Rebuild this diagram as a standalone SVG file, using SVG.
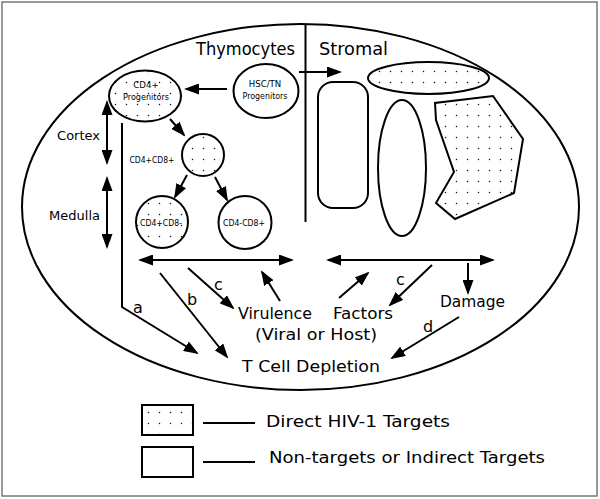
<svg xmlns="http://www.w3.org/2000/svg" width="600" height="499" viewBox="0 0 600 499">
<style>
.o{fill:none;stroke:#000;stroke-width:2}
.d{fill:url(#dots);stroke:#000;stroke-width:2}
.c{fill:none;stroke:#000;stroke-width:2}
.a{fill:none;stroke:#000;stroke-width:2;marker-end:url(#ah)}
.aa{fill:none;stroke:#000;stroke-width:2;marker-end:url(#ah);marker-start:url(#ah)}
text{font-family:"DejaVu Sans","Liberation Sans",sans-serif;fill:#000}
.s{font-size:8.6px;text-anchor:middle}
.m{font-size:13px}
.l{font-size:16px}
.t{font-size:17px}
</style>
<defs>
<pattern id="dots" width="11" height="11" patternUnits="userSpaceOnUse">
<rect width="11" height="11" fill="#fff"/>
<circle cx="5.5" cy="5.5" r="0.75" fill="#111"/>
</pattern>
<marker id="ah" viewBox="0 0 15 11" refX="13" refY="5.5" markerWidth="15" markerHeight="11" markerUnits="userSpaceOnUse" orient="auto-start-reverse">
<path d="M0,0 L15,5.5 L0,11 z" fill="#000"/>
</marker>
</defs>
<rect x="2" y="2" width="595" height="494" fill="#fff" stroke="#777" stroke-width="1.5"/>
<g id="thymus">
<ellipse cx="300.5" cy="207" rx="278.5" ry="183" class="o"/>
<line x1="305.5" y1="24" x2="305.5" y2="222" class="c"/>
<text x="295" y="55" class="t" text-anchor="end" textLength="99" lengthAdjust="spacingAndGlyphs">Thymocytes</text>
<text x="319" y="55" class="t" textLength="69" lengthAdjust="spacingAndGlyphs">Stromal</text>
<text x="100" y="140" class="m" text-anchor="end">Cortex</text>
<text x="100" y="220" class="m" text-anchor="end">Medulla</text>
</g>
<g id="cd4-progenitors">
<ellipse cx="145" cy="96" rx="36" ry="25.5" class="d"/>
<text x="146" y="88" class="s">CD4+</text>
<text x="146" y="100" class="s" textLength="46" lengthAdjust="spacingAndGlyphs">Progenitors</text>
</g>
<g id="hsc-progenitors">
<ellipse cx="266" cy="91" rx="32.5" ry="27" class="o"/>
<text x="265" y="87" class="s">HSC/TN</text>
<text x="265" y="99" class="s" textLength="45" lengthAdjust="spacingAndGlyphs">Progenitors</text>
</g>
<g id="cd4cd8">
<circle cx="203" cy="155" r="21" class="d"/>
<text x="152" y="163" class="s" textLength="45" lengthAdjust="spacingAndGlyphs">CD4+CD8+</text>
</g>
<g id="cd4-single">
<circle cx="162" cy="222" r="26" class="d"/>
<text x="161" y="226" class="s" textLength="42" lengthAdjust="spacingAndGlyphs">CD4+CD8-</text>
</g>
<g id="cd8-single">
<circle cx="245" cy="222.5" r="26.5" class="o"/>
<text x="244" y="226" class="s" textLength="42" lengthAdjust="spacingAndGlyphs">CD4-CD8+</text>
</g>
<g id="stromal">
<rect x="318" y="82" width="50" height="126" rx="15" class="o"/>
<ellipse cx="428.5" cy="78" rx="60.5" ry="16" class="d"/>
<ellipse cx="402" cy="168" rx="24" ry="68" class="o"/>
<polygon points="435,103 436,120 454,172 436,203 455,219 514,193 523,139 493,96" class="d"/>
</g>
<g id="effects">
<text x="238" y="319" class="l" textLength="74" lengthAdjust="spacingAndGlyphs">Virulence</text>
<text x="333" y="319" class="l" textLength="60" lengthAdjust="spacingAndGlyphs">Factors</text>
<text x="255" y="340" class="l" textLength="122" lengthAdjust="spacingAndGlyphs">(Viral or Host)</text>
<text x="440" y="307" class="l" textLength="65" lengthAdjust="spacingAndGlyphs">Damage</text>
<text x="242" y="372" class="l" textLength="138" lengthAdjust="spacingAndGlyphs">T Cell Depletion</text>
</g>
<g id="connectors">
<line x1="299" y1="72" x2="340" y2="72" class="a"/>
<line x1="227" y1="89" x2="186" y2="89" class="a"/>
<line x1="170" y1="119" x2="184" y2="135" class="a"/>
<line x1="187" y1="175" x2="175" y2="197" class="a"/>
<line x1="215" y1="177" x2="227" y2="200" class="a"/>
<line x1="107" y1="102" x2="107" y2="163" class="aa"/>
<line x1="107" y1="178" x2="107" y2="247" class="aa"/>
<path d="M122,123 V307 L197,353" class="a"/>
<line x1="140" y1="260" x2="292" y2="260" class="aa"/>
<line x1="328" y1="260" x2="493" y2="260" class="aa"/>
<line x1="160" y1="273" x2="227" y2="357" class="a"/>
<line x1="188" y1="268" x2="233" y2="308" class="a"/>
<line x1="280" y1="301" x2="262" y2="272" class="a"/>
<line x1="339" y1="298" x2="368" y2="273" class="a"/>
<line x1="432" y1="265" x2="390" y2="305" class="a"/>
<line x1="468" y1="263" x2="468" y2="293" class="a"/>
<line x1="459" y1="317" x2="392" y2="358" class="a"/>
<text x="133" y="313" class="l">a</text>
<text x="187" y="305" class="l">b</text>
<text x="214" y="290" class="l">c</text>
<text x="396" y="285" class="l">c</text>
<text x="423" y="332" class="l">d</text>
</g>
<g id="legend">
<rect x="142" y="405" width="51" height="30" class="d"/>
<rect x="142" y="447" width="51" height="30" class="o"/>
<line x1="203" y1="423" x2="255" y2="423" class="c"/>
<line x1="203" y1="462" x2="255" y2="462" class="c"/>
<text x="266" y="427" class="l" textLength="184" lengthAdjust="spacingAndGlyphs">Direct HIV-1 Targets</text>
<text x="269" y="463" class="l" textLength="276" lengthAdjust="spacingAndGlyphs">Non-targets or Indirect Targets</text>
</g>
</svg>
